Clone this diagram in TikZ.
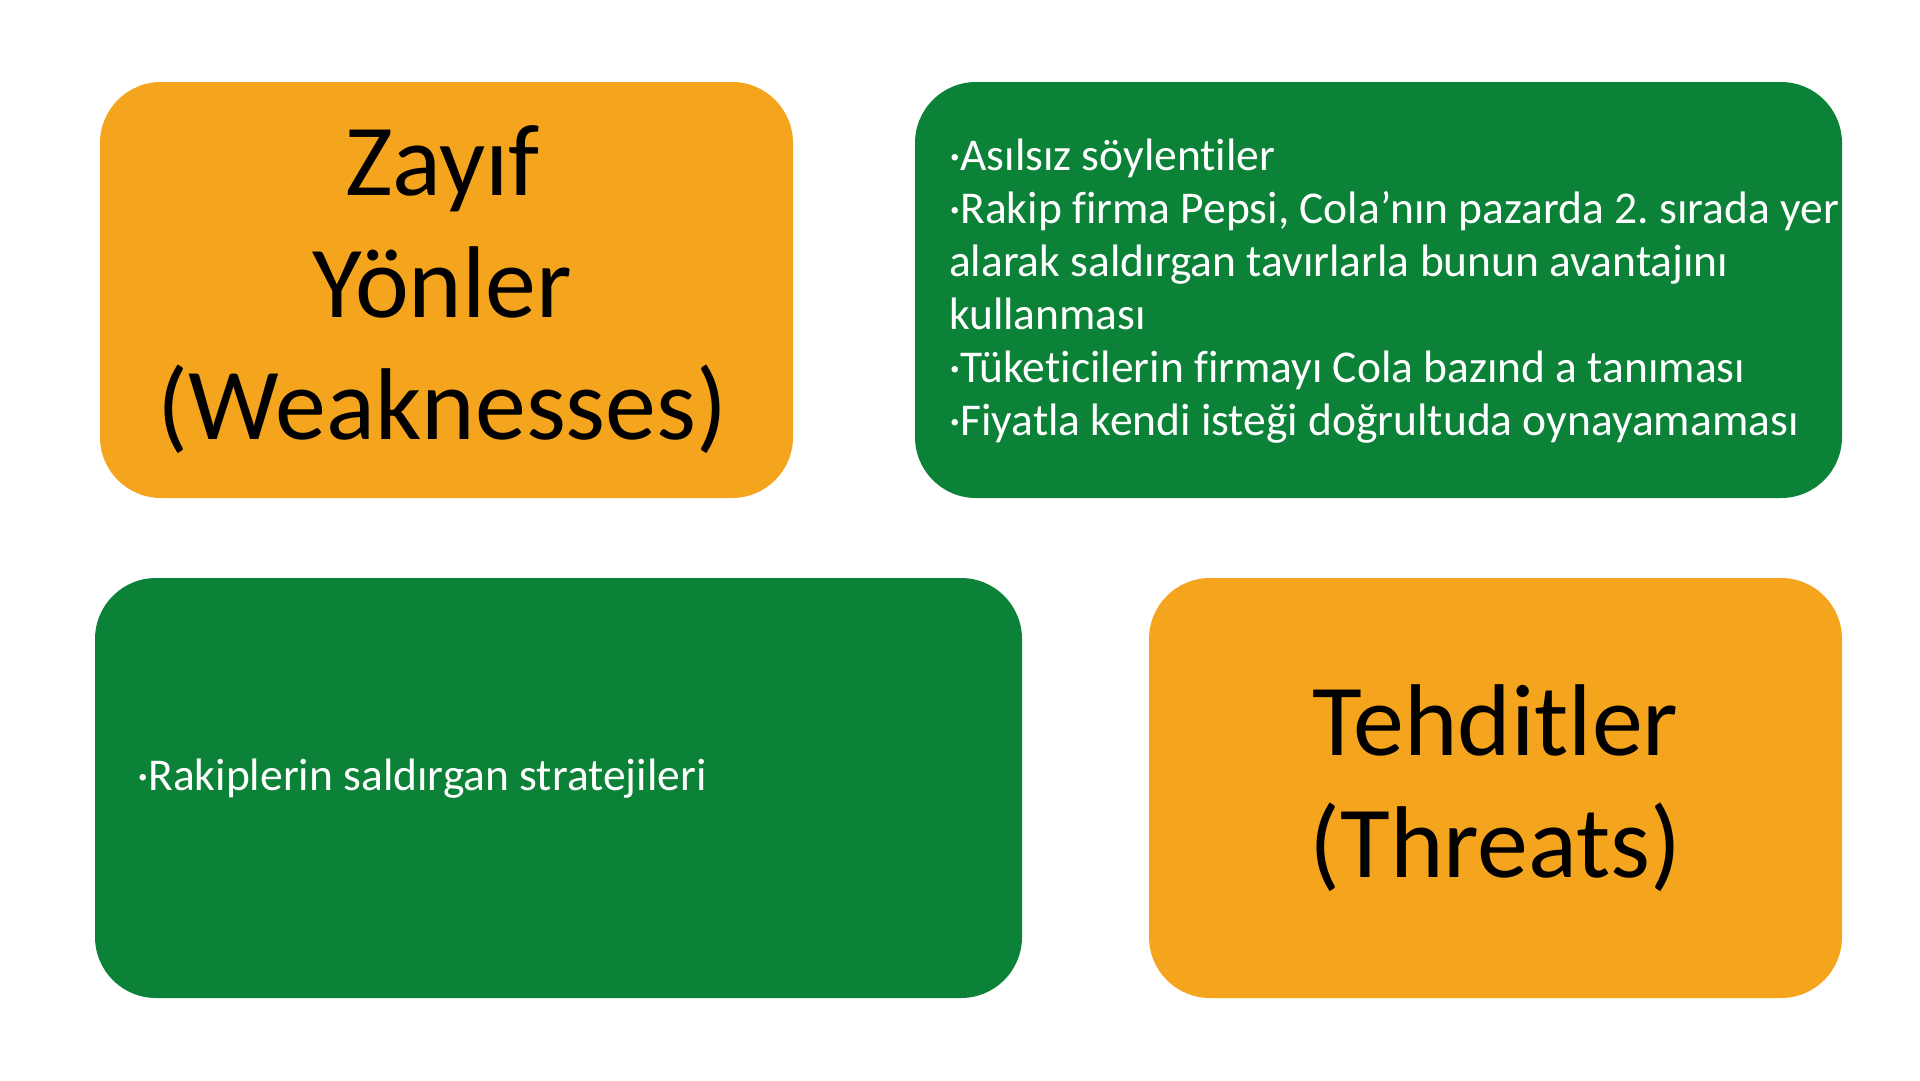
\documentclass[tikz,border=0pt]{standalone}
\usepackage{fontspec}
\setmainfont{Carlito}[Ligatures=NoCommon]
\usepackage{tikz}
\usetikzlibrary{positioning}
\frenchspacing
\definecolor{swotorange}{RGB}{245, 164, 29}
\definecolor{swotgreen}{RGB}{11, 130, 55}
\tikzset{
    orangebox/.style={fill=swotorange, rounded corners=61pt, inner sep=0pt},
    greenbox/.style={fill=swotgreen, rounded corners=61pt, inner sep=0pt},
    bigtitle/.style={align=center, font=\fontsize{102}{122}\selectfont, text=black},
    itemtext/.style={align=left, anchor=west, inner sep=0pt, font=\fontsize{45.5}{53}\selectfont, text=white}
}
\begin{document}
\begin{tikzpicture}[x=1pt, y=-1pt]
    \useasboundingbox (0,0) rectangle (1920,1080);

    % top row
    \node[orangebox, minimum width=693pt, minimum height=416pt] (weak) at (446.5,290) {};
    \node[bigtitle] (weaklabel) at ([xshift=-4pt]weak.center) {Zayıf\\Yönler\\(Weaknesses)};
    \node[greenbox, minimum width=927pt, minimum height=416pt] (weaklist) at (1378.5,290) {};
    \node[itemtext] (weakitems) at ([xshift=34pt, yshift=-1pt]weaklist.west) {%
        ·Asılsız söylentiler\\
        ·Rakip firma Pepsi, Cola’nın pazarda 2. sırada yer\\
        alarak saldırgan tavırlarla bunun avantajını\\
        kullanması\\
        ·Tüketicilerin firmayı Cola bazınd a tanıması\\
        ·Fiyatla kendi isteği doğrultuda oynayamaması};

    % bottom row
    \node[greenbox, minimum width=927pt, minimum height=420pt] (threatlist) at (558.5,788) {};
    \node[itemtext] (threatitems) at ([xshift=42pt, yshift=9pt]threatlist.west) {·Rakiplerin saldırgan stratejileri};
    \node[orangebox, minimum width=693pt, minimum height=420pt] (threat) at (1495.5,788) {};
    \node[bigtitle] (threatlabel) at (threat.center) {Tehditler\\(Threats)};
\end{tikzpicture}
\end{document}
